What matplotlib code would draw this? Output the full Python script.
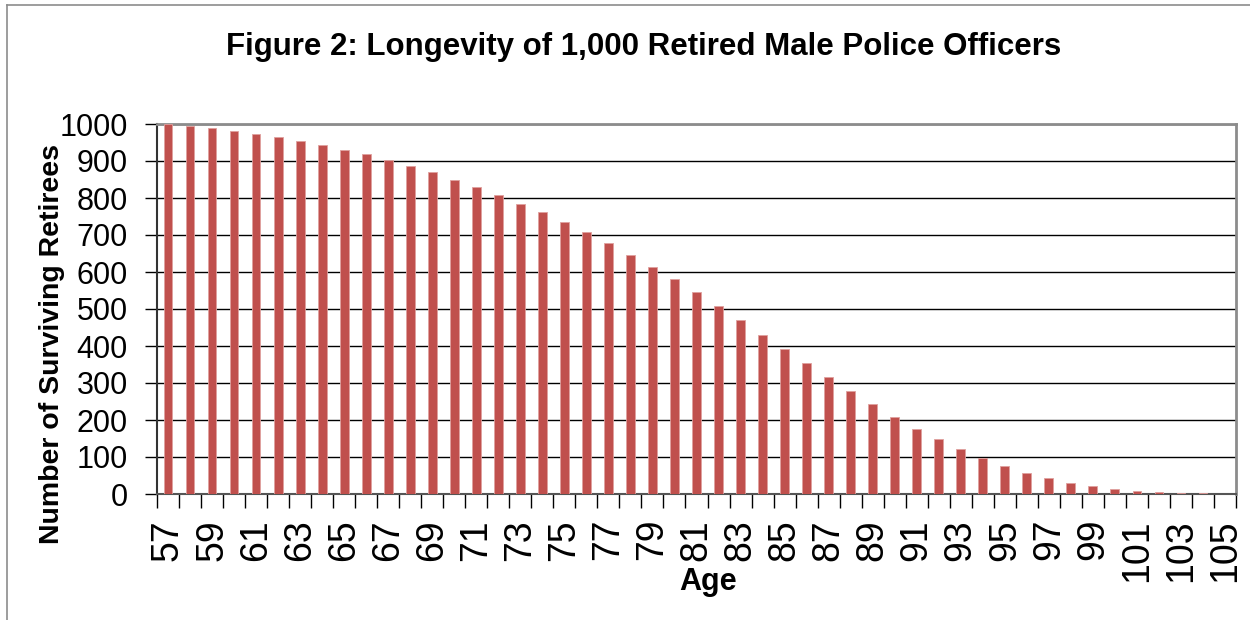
import numpy as np
import matplotlib
matplotlib.use("Agg")
import matplotlib.pyplot as plt
from matplotlib.lines import Line2D

plt.rcParams['font.family'] = ['Liberation Sans', 'DejaVu Sans']

ages = list(range(57, 106))
survivors = [1000, 995, 988, 981, 973, 964, 953, 943, 931, 919,
             903, 886, 869, 849, 830, 807, 785, 761, 734, 708,
             678, 647, 614, 581, 545, 508, 469, 431, 392, 353,
             316, 278, 243, 209, 177, 149, 121, 96, 76, 58,
             42, 30, 22, 14, 9, 6, 4, 2, 1]
y_ticks = list(range(0, 1001, 100))

bar_color = '#C0504D'
title = 'Figure 2: Longevity of 1,000 Retired Male Police Officers'

fig = plt.figure(figsize=(12.5, 6.2), dpi=100)
ax = fig.add_axes([157 / 1250, 1 - 494 / 620, (1236 - 157) / 1250, (494 - 124) / 620])

x = np.arange(len(ages))
ax.bar(x, survivors, width=0.4, color=bar_color, edgecolor='#E0A09E', linewidth=0.6, zorder=3)

ax.set_xlim(-0.5, len(ages) - 0.5)
ax.set_ylim(0, 1000)

# gridlines
ax.set_yticks(y_ticks)
ax.yaxis.grid(True, color='black', linewidth=1.0, zorder=0)
ax.set_axisbelow(True)
ax.tick_params(axis='y', length=9, width=1.0, labelsize=22, pad=12)

# tick marks between categories, labels on every other one
ax.set_xticks(np.arange(-0.5, len(ages), 1))
ax.set_xticklabels([])
ax.tick_params(axis='x', which='major', length=10, width=1.0)
ax.set_xticks(x[::2], minor=True)
ax.set_xticklabels([str(a) for a in ages[::2]], minor=True, rotation=90, fontsize=27)
ax.tick_params(axis='x', which='minor', length=0, pad=18)

for s in ['top', 'right']:
    ax.spines[s].set_color('#8C8C8C')
    ax.spines[s].set_linewidth(2)
ax.spines['left'].set_color('#333333')
ax.spines['left'].set_linewidth(1.5)
ax.spines['bottom'].set_color('#555555')
ax.spines['bottom'].set_linewidth(1.5)

fig.text(644 / 1250, 1 - 47 / 620, title, ha='center', va='center',
         fontsize=22.5, fontweight='bold')
fig.text(52 / 1250, 1 - 344 / 620, 'Number of Surviving Retirees', rotation=90,
         ha='center', va='center', fontsize=20.5, fontweight='bold')
fig.text(708 / 1250, 1 - 582 / 620, 'Age', ha='center', va='center',
         fontsize=22, fontweight='bold')

# outer chart border (left and top edges visible)
fig.add_artist(Line2D([7 / 1250, 7 / 1250], [0, 1 - 5 / 620], transform=fig.transFigure,
                      color='#8C8C8C', linewidth=1.2))
fig.add_artist(Line2D([7 / 1250, 1], [1 - 5 / 620, 1 - 5 / 620], transform=fig.transFigure,
                      color='#8C8C8C', linewidth=1.2))

fig.savefig('out.png', dpi=100)
